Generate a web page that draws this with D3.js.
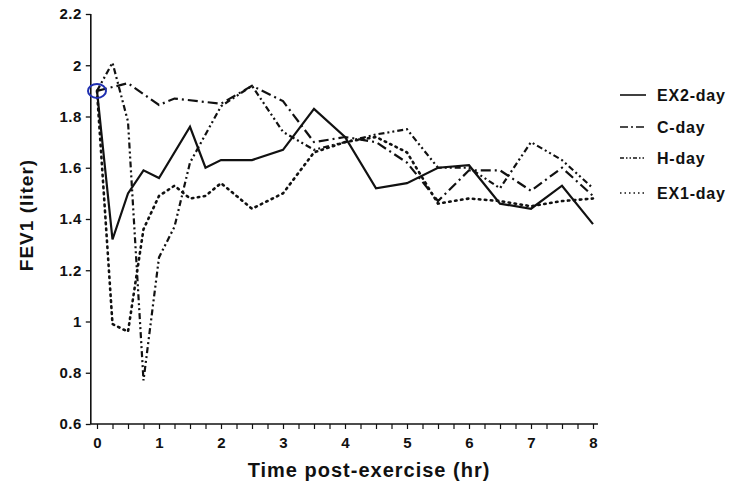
<!DOCTYPE html>
<html>
<head>
<meta charset="utf-8">
<script src="https://cdn.jsdelivr.net/npm/d3@7"></script>
<style>
  body { margin: 0; background: #fff; }
  text { font-family: "Liberation Sans", Arial, sans-serif; font-weight: bold; fill: #111; }
</style>
</head>
<body>
<script>
// data
const ex2Hours = [0, 0.25, 0.5, 0.75, 1, 1.5, 1.75, 2, 2.5, 3, 3.5, 4, 4.5, 5, 5.5, 6, 6.5, 7, 7.5, 8];
const ex2Day   = [1.90, 1.32, 1.50, 1.59, 1.56, 1.76, 1.60, 1.63, 1.63, 1.67, 1.83, 1.72, 1.52, 1.54, 1.60, 1.61, 1.46, 1.44, 1.53, 1.38];

const cHours = [0, 0.5, 1, 1.25, 2, 2.5, 3, 3.5, 4, 4.5, 5, 5.5, 6, 6.5, 7, 7.5, 8];
const cDay   = [1.90, 1.93, 1.845, 1.87, 1.85, 1.92, 1.86, 1.70, 1.72, 1.70, 1.62, 1.47, 1.59, 1.59, 1.51, 1.60, 1.49];

const hHours = [0, 0.25, 0.5, 0.75, 1, 1.25, 1.5, 2, 2.5, 3, 3.5, 4, 4.5, 5, 5.5, 6, 6.5, 7, 7.5, 8];
const hDay   = [1.90, 2.01, 1.78, 0.77, 1.25, 1.37, 1.62, 1.84, 1.92, 1.74, 1.67, 1.70, 1.73, 1.75, 1.60, 1.60, 1.52, 1.70, 1.63, 1.52];

const ex1Hours = [0, 0.25, 0.5, 0.75, 1, 1.25, 1.5, 1.75, 2, 2.5, 3, 3.5, 4, 4.5, 5, 5.5, 6, 6.5, 7, 7.5, 8];
const ex1Day   = [1.90, 0.99, 0.96, 1.36, 1.49, 1.53, 1.48, 1.49, 1.54, 1.44, 1.50, 1.66, 1.70, 1.72, 1.66, 1.46, 1.48, 1.47, 1.45, 1.47, 1.48];

const yTicks = [0.6, 0.8, 1, 1.2, 1.4, 1.6, 1.8, 2, 2.2];
const xTicks = [0, 1, 2, 3, 4, 5, 6, 7, 8];

const dims = { width: 735, height: 487 };

const svg = d3.select("body").append("svg")
    .attr("width", dims.width)
    .attr("height", dims.height);

const x = d3.scaleLinear().domain([0, 8]).range([97, 593]);
const y = d3.scaleLinear().domain([0.6, 2.2]).range([424, 14]);
const axisX = x(-0.1);

// y axis
const yAxis = svg.append("g")
    .attr("transform", `translate(${axisX},0)`)
    .call(d3.axisLeft(y).tickValues(yTicks).tickSize(5).tickFormat(d3.format("")));
yAxis.select(".domain").attr("d", `M0,${y(2.2)}V${y(0.6)}`).attr("stroke", "#111").attr("stroke-width", 1.6);
yAxis.selectAll(".tick line").attr("stroke", "#111").attr("stroke-width", 1.3);
yAxis.selectAll(".tick text").attr("x", -9).attr("font-size", 15)
    .style("font-family", "Liberation Sans, Arial, sans-serif").style("font-weight", "bold")
    .style("letter-spacing", "0.5px").attr("fill", "#111");

// x axis, minor ticks every quarter hour
const minor = d3.range(0, 8.01, 0.25);
const xAxis = svg.append("g")
    .attr("transform", `translate(0,${y(0.6)})`)
    .call(d3.axisBottom(x).tickValues(minor).tickSize(5)
        .tickFormat(d => xTicks.includes(d) ? d : ""));
xAxis.select(".domain").attr("d", `M${axisX},0H${x(8.08)}`).attr("stroke", "#111").attr("stroke-width", 1.6);
xAxis.selectAll(".tick line").attr("stroke", "#111").attr("stroke-width", 1.2);
xAxis.selectAll(".tick text").attr("y", 13).attr("font-size", 15)
    .style("font-family", "Liberation Sans, Arial, sans-serif").style("font-weight", "bold").attr("fill", "#111");

// titles
svg.append("text")
    .attr("x", 369).attr("y", 477)
    .attr("text-anchor", "middle")
    .attr("font-size", 20)
    .style("letter-spacing", "1px")
    .text("Time post-exercise (hr)");

svg.append("text")
    .attr("transform", `translate(33,215) rotate(-90)`)
    .attr("text-anchor", "middle")
    .attr("font-size", 19)
    .style("letter-spacing", "1px")
    .text("FEV1 (liter)");

// series
const series = [
    { name: "EX2-day", hours: ex2Hours, vals: ex2Day, dash: null },
    { name: "C-day",   hours: cHours,   vals: cDay,   dash: "10,4,2,4" },
    { name: "H-day",   hours: hHours,   vals: hDay,   dash: "6,3,2,3,2,3" },
    { name: "EX1-day", hours: ex1Hours, vals: ex1Day, dash: "1.5,4.5" }
];

const line = d3.line().x(d => x(d[0])).y(d => y(d[1]));

svg.selectAll("path.series")
    .data(series)
    .join("path")
    .attr("class", "series")
    .attr("d", s => line(s.hours.map((h, i) => [h, s.vals[i]])))
    .attr("fill", "none")
    .attr("stroke", "#111")
    .attr("stroke-width", s => s.dash === "1.5,4.5" ? 2.6 : 2.2)
    .attr("stroke-linecap", s => s.dash === "1.5,4.5" ? "round" : "butt")
    .attr("stroke-dasharray", s => s.dash);

// blue circle at start
svg.append("ellipse")
    .attr("cx", x(0)).attr("cy", y(1.9))
    .attr("rx", 9).attr("ry", 7)
    .attr("fill", "none")
    .attr("stroke", "#1f2fb0")
    .attr("stroke-width", 2);

// legend
const legY = [95, 127, 158, 193];
const legend = svg.selectAll("g.leg")
    .data(series)
    .join("g")
    .attr("class", "leg")
    .attr("transform", (d, i) => `translate(620,${legY[i]})`);

legend.append("line")
    .attr("x1", 0).attr("x2", 26)
    .attr("stroke", "#111")
    .attr("stroke-width", 1.6)
    .attr("stroke-dasharray", d => d.dash === null ? null : d.dash === "1.5,4.5" ? "1.5,3" : d.dash === "10,4,2,4" ? "8,3,2,3" : "4,2,1.5,2,1.5,2");

legend.append("text")
    .attr("x", 37).attr("y", 6)
    .attr("font-size", 16)
    .style("letter-spacing", "0.8px")
    .text(d => d.name);
</script>
</body>
</html>
